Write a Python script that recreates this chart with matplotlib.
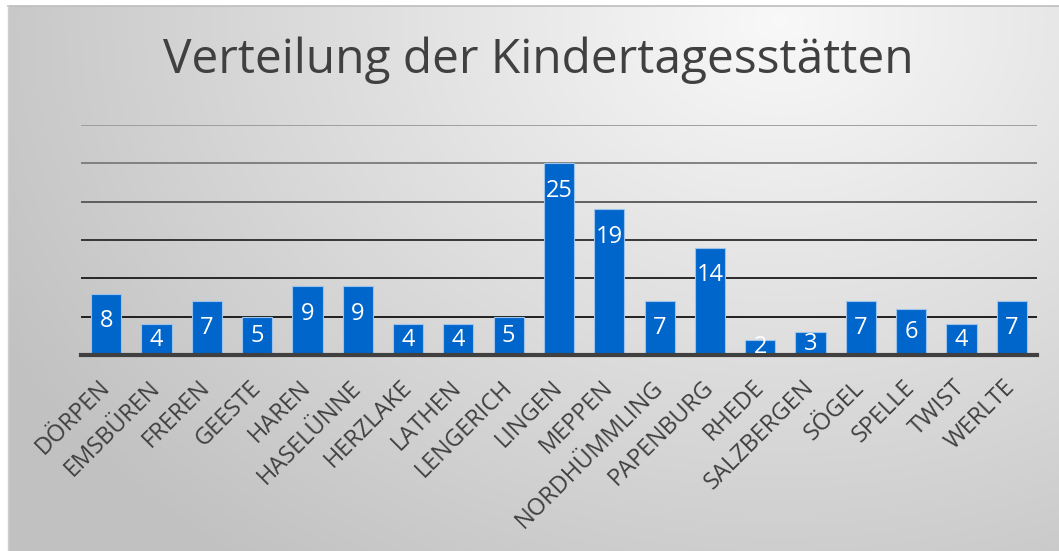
import numpy as np
import matplotlib
matplotlib.use("Agg")
import matplotlib.pyplot as plt

# data
orte = ["DÖRPEN", "EMSBÜREN", "FREREN", "GEESTE", "HAREN", "HASELÜNNE",
        "HERZLAKE", "LATHEN", "LENGERICH", "LINGEN", "MEPPEN", "NORDHÜMMLING",
        "PAPENBURG", "RHEDE", "SALZBERGEN", "SÖGEL", "SPELLE", "TWIST", "WERLTE"]
anzahl = [8, 4, 7, 5, 9, 9, 4, 4, 5, 25, 19, 7, 14, 2, 3, 7, 6, 4, 7]
y_ticks = [0, 5, 10, 15, 20, 25, 30]

W, H = 1059, 551
fig = plt.figure(figsize=(W / 100, H / 100), dpi=100)
fig.patch.set_facecolor("white")

# background gradient (chart area)
bg = fig.add_axes([8 / W, 0, 1 - 8 / W, 1 - 6 / H])
xx, yy = np.meshgrid(np.linspace(8, W, 400), np.linspace(6, H, 200))
d = np.sqrt(((xx - 780) / 900) ** 2 + ((yy - 20) / 700) ** 2)
g = np.clip(0.975 - 0.22 * d, 0.76, 1.0)
bg.imshow(np.dstack([g, g, g]), aspect="auto", extent=[0, 1, 0, 1], origin="upper")
bg.set_axis_off()
fig.add_artist(plt.Line2D([8 / W, 1], [1 - 6 / H, 1 - 6 / H], color="#bdbdbd", lw=1.2))
fig.add_artist(plt.Line2D([8 / W, 8 / W], [1 - 6 / H, 0], color="#cfcfcf", lw=1.0))

ax = fig.add_axes([81 / W, 1 - 355 / H, (1037 - 81) / W, (355 - 125) / H])
ax.patch.set_alpha(0)
x = np.arange(len(orte))
ax.bar(x, anzahl, width=0.6, color="#0066cc", edgecolor="#9cc3ea", linewidth=0.8, zorder=3)

ax.set_xlim(-0.5, len(orte) - 0.5)
ax.set_ylim(0, 30)
ax.set_yticks(y_ticks)
ax.set_yticklabels([])
ax.tick_params(axis="y", length=0)
grid_cols = ["#3a3a3a", "#111111", "#1a1a1a", "#2a2a2a", "#555555", "#7a7a7a", "#9a9a9a"]
for yv, c in zip(y_ticks[1:], grid_cols[1:]):
    ax.axhline(yv, color=c, lw=1.3, zorder=1)
for s in ["top", "right", "left"]:
    ax.spines[s].set_visible(False)
ax.spines["bottom"].set_color("#404040")
ax.spines["bottom"].set_linewidth(3)
ax.spines["bottom"].set_zorder(4)

ax.set_xticks(x)
ax.set_xticklabels(orte, rotation=45, ha="right", va="center", rotation_mode="anchor",
                   fontsize=17, color="#404040", family="Open Sans")
ax.tick_params(axis="x", length=0, pad=21)

for xi, v in zip(x, anzahl):
    ly = max(v / 2, v - 3.6)
    ax.text(xi, ly, str(v), ha="center", va="center", color="white",
            fontsize=17, family="Open Sans", zorder=5)

fig.text(538 / W, 1 - 60 / H, "Verteilung der Kindertagesstätten", ha="center", va="center",
         fontsize=34.5, color="#404040", family="Open Sans")

fig.savefig("out.png", dpi=100)
